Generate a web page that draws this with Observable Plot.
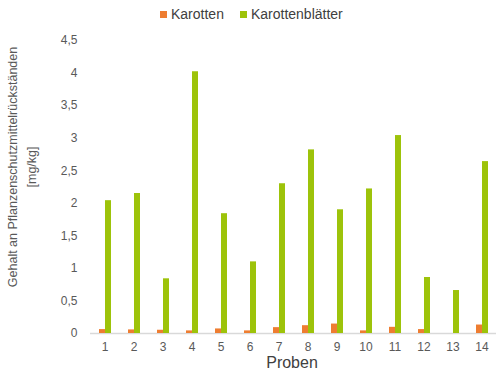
<!DOCTYPE html>
<html><head><meta charset="utf-8">
<script src="https://cdn.jsdelivr.net/npm/d3@7"></script>
<script src="https://cdn.jsdelivr.net/npm/@observablehq/plot@0.6"></script>
<style>
body{margin:0;background:#fff;font-family:"Liberation Sans",Arial,sans-serif}
#wrap{position:relative;width:500px;height:372px}
#legend{position:absolute;top:6px;left:160px;display:flex;align-items:center;font-size:14px;color:#404040;height:16px;white-space:nowrap}
#legend .sw{display:inline-block;width:7px;height:7px;margin-right:4px}
#legend .it{display:flex;align-items:center;margin-right:16px}
#chart{position:absolute;top:28px;left:0}
#xt{position:absolute;top:355px;left:0;width:584px;text-align:center;font-size:16px;line-height:16px;color:#404040}
</style></head>
<body><div id="wrap"><div id="legend"></div><div id="chart"></div><div id="xt">Proben</div></div>
<script>
const proben = ["1","2","3","4","5","6","7","8","9","10","11","12","13","14"];
const karotten = [0.06,0.055,0.05,0.04,0.07,0.04,0.09,0.12,0.145,0.04,0.095,0.06,0,0.13];
const blaetter = [2.04,2.15,0.84,4.02,1.84,1.10,2.30,2.82,1.90,2.22,3.04,0.86,0.66,2.64];
const series = ["Karotten","Karottenblätter"];
const colors = ["#EE7D31","#9DC30A"];
const yTicks = [0,0.5,1,1.5,2,2.5,3,3.5,4,4.5];
const yTitle = ["Gehalt an Pflanzenschutzmittelrückständen","[mg/kg]"];

const data = proben.flatMap((p,i)=>[
  {probe:p, serie:series[0], wert:karotten[i]},
  {probe:p, serie:series[1], wert:blaetter[i]}
]);

const leg = document.getElementById("legend");
series.forEach((s,i)=>{
  const it=document.createElement("span");it.className="it";
  const sw=document.createElement("span");sw.className="sw";sw.style.background=colors[i];
  it.appendChild(sw);it.appendChild(document.createTextNode(s));leg.appendChild(it);
});

const plot = Plot.plot({
  width:500, height:344,
  marginLeft:88, marginRight:3, marginTop:12, marginBottom:39,
  style:{fontSize:"12px", color:"#595959", fontFamily:"'Liberation Sans',Arial,sans-serif", background:"#fff"},
  fx:{domain:proben, padding:0, label:null, tickSize:0, tickPadding:9},
  x:{domain:series, paddingInner:0, paddingOuter:1.3, axis:null},
  y:{domain:[0,4.5], ticks:yTicks, tickFormat:d=>String(d).replace(".",","), tickSize:0, tickPadding:13, label:null},
  color:{domain:series, range:colors},
  marks:[
    Plot.ruleY([0],{stroke:"#d9d9d9", strokeWidth:1.5}),
    Plot.barY(data,{fx:"probe", x:"serie", y:"wert", fill:"serie"})
  ]
});
document.getElementById("chart").appendChild(plot);

const svg = d3.select(plot);
[[14,yTitle[0]],[33,yTitle[1]]].forEach(([x,t])=>{
  svg.append("text").attr("transform",`translate(${x},${167-28}) rotate(-90)`)
    .attr("text-anchor","middle").attr("dominant-baseline","middle")
    .attr("font-size","12.5px").attr("fill","#595959").text(t);
});
</script></body></html>
